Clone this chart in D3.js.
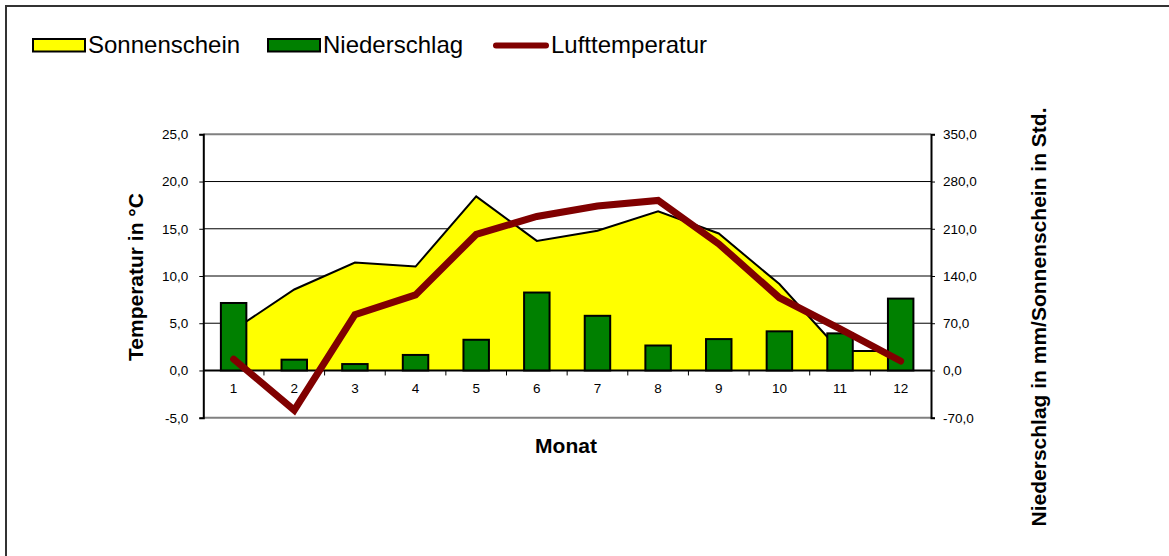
<!DOCTYPE html>
<meta charset="utf-8">
<head>
<style>
  body { margin: 0; background: #fff; }
  svg { display: block; font-family: 'Liberation Sans', Arial, sans-serif; }
</style>
</head>
<body>
<svg width="1169" height="556"></svg>
<script src="https://d3js.org/d3.v7.min.js"></script>
<script>

// data
var months = [1, 2, 3, 4, 5, 6, 7, 8, 9, 10, 11, 12];
var sonnenschein = [60, 120, 160, 154, 258, 192, 207, 236, 203, 128, 29, 29];
var niederschlag = [100, 16, 9.5, 23, 45.5, 115.5, 81, 37, 46.5, 58, 55, 106.5];
var temperatur = [1.2, -4.2, 5.9, 8.0, 14.4, 16.3, 17.4, 18.0, 13.4, 7.7, 4.4, 1.0];
var leftTicks = [-5, 0, 5, 10, 15, 20, 25];
var rightTicks = [-70, 0, 70, 140, 210, 280, 350];

var plot = {left: 203.3, right: 931, top: 134.3, bottom: 417.7};

var de = d3.formatLocale({decimal: ",", thousands: ".", grouping: [3], currency: ["", " €"], minus: "-"});
var fmt = de.format(".1f");

var svg = d3.select("svg");

// outer frame
svg.append("rect")
    .attr("x", 6).attr("y", 6)
    .attr("width", 1300).attr("height", 700)
    .style("fill", "none")
    .style("stroke", "#333")
    .style("stroke-width", 2);

var x = d3.scaleBand().domain(months).range([plot.left, plot.right]).padding(0);
var yL = d3.scaleLinear().domain([-5, 25]).range([plot.bottom, plot.top]);
var yR = d3.scaleLinear().domain([-70, 350]).range([plot.bottom, plot.top]);

function cx(m) { return x(m) + x.bandwidth() / 2; }

// grid lines
svg.append("g").selectAll("line")
    .data([5, 10, 15, 20])
  .enter().append("line")
    .attr("x1", plot.left).attr("x2", plot.right)
    .attr("y1", function(d) { return yL(d); })
    .attr("y2", function(d) { return yL(d); })
    .style("stroke", "#000")
    .style("stroke-width", 1);

// top and bottom frame of plot
svg.append("g").selectAll("line")
    .data([25, -5])
  .enter().append("line")
    .attr("x1", plot.left).attr("x2", plot.right)
    .attr("y1", function(d) { return yL(d); })
    .attr("y2", function(d) { return yL(d); })
    .style("stroke", "#808080")
    .style("stroke-width", 2);

// Sonnenschein area
var area = d3.area()
    .x(function(d, i) { return cx(months[i]); })
    .y0(yR(0))
    .y1(function(d) { return yR(d); });
var topLine = d3.line()
    .x(function(d, i) { return cx(months[i]); })
    .y(function(d) { return yR(d); });

svg.append("path")
    .datum(sonnenschein)
    .attr("d", area)
    .style("fill", "#ffff00");
svg.append("path")
    .datum(sonnenschein)
    .attr("d", topLine)
    .style("fill", "none")
    .style("stroke", "#000")
    .style("stroke-width", 2);

// zero line
svg.append("line")
    .attr("x1", plot.left).attr("x2", plot.right)
    .attr("y1", yL(0)).attr("y2", yL(0))
    .style("stroke", "#000")
    .style("stroke-width", 2);

// x ticks between months
svg.append("g").selectAll("line")
    .data(months.slice(1))
  .enter().append("line")
    .attr("x1", function(d) { return x(d); })
    .attr("x2", function(d) { return x(d); })
    .attr("y1", yL(0)).attr("y2", yL(0) + 5)
    .style("stroke", "#000")
    .style("stroke-width", 1);

// Niederschlag bars
var barW = x.bandwidth() * 0.42;
svg.append("g").selectAll("rect")
    .data(niederschlag)
  .enter().append("rect")
    .attr("x", function(d, i) { return cx(months[i]) - barW / 2; })
    .attr("width", barW)
    .attr("y", function(d) { return yR(d); })
    .attr("height", function(d) { return yR(0) - yR(d); })
    .style("fill", "#008000")
    .style("stroke", "#000")
    .style("stroke-width", 2);

// Lufttemperatur line
var tLine = d3.line()
    .x(function(d, i) { return cx(months[i]); })
    .y(function(d) { return yL(d); });
svg.append("path")
    .datum(temperatur)
    .attr("d", tLine)
    .style("fill", "none")
    .style("stroke", "#800000")
    .style("stroke-width", 7)
    .style("stroke-linecap", "round")
    .style("stroke-linejoin", "miter");

// left axis
var leftAxis = d3.axisLeft(yL).tickValues(leftTicks).tickFormat(fmt).tickSize(4).tickPadding(11);
var gL = svg.append("g")
    .attr("transform", "translate(" + plot.left + ",0)")
    .call(leftAxis);

// right axis
var rightAxis = d3.axisRight(yR).tickValues(rightTicks).tickFormat(fmt).tickSize(4).tickPadding(8);
var gR = svg.append("g")
    .attr("transform", "translate(" + plot.right + ",0)")
    .call(rightAxis);

[gL, gR].forEach(function(g) {
  g.select(".domain").style("stroke", "#000").style("stroke-width", 2);
  g.selectAll(".tick line").style("stroke", "#000");
  g.selectAll("text")
    .style("font-family", "'Liberation Sans', Arial, sans-serif")
    .style("font-size", "13.5px")
    .style("fill", "#000");
});

// month labels
svg.append("g").selectAll("text")
    .data(months)
  .enter().append("text")
    .attr("x", function(d) { return cx(d); })
    .attr("y", 393)
    .attr("text-anchor", "middle")
    .style("font-size", "13.5px")
    .text(function(d) { return d; });

// axis titles
svg.append("text")
    .attr("x", 566).attr("y", 453)
    .attr("text-anchor", "middle")
    .style("font-size", "21px")
    .style("font-weight", "bold")
    .text("Monat");

svg.append("text")
    .attr("transform", "translate(143,277) rotate(-90)")
    .attr("text-anchor", "middle")
    .style("font-size", "21px")
    .style("font-weight", "bold")
    .text("Temperatur in °C");

svg.append("text")
    .attr("transform", "translate(1046,317) rotate(-90)")
    .attr("text-anchor", "middle")
    .style("font-size", "21px")
    .style("font-weight", "bold")
    .text("Niederschlag in mm/Sonnenschein in Std.");

// legend
var legend = svg.append("g");
legend.append("rect")
    .attr("x", 33).attr("y", 39).attr("width", 52).attr("height", 12.5)
    .style("fill", "#ffff00").style("stroke", "#000").style("stroke-width", 2);
legend.append("text").attr("x", 88).attr("y", 53).style("font-size", "24px").text("Sonnenschein");

legend.append("rect")
    .attr("x", 268).attr("y", 39).attr("width", 52).attr("height", 12.5)
    .style("fill", "#008000").style("stroke", "#000").style("stroke-width", 2);
legend.append("text").attr("x", 323).attr("y", 53).style("font-size", "24px").text("Niederschlag");

legend.append("line")
    .attr("x1", 496).attr("x2", 546).attr("y1", 45.5).attr("y2", 45.5)
    .style("stroke", "#800000").style("stroke-width", 6).style("stroke-linecap", "round");
legend.append("text").attr("x", 551).attr("y", 53).style("font-size", "24px").text("Lufttemperatur");

</script>
</body>
